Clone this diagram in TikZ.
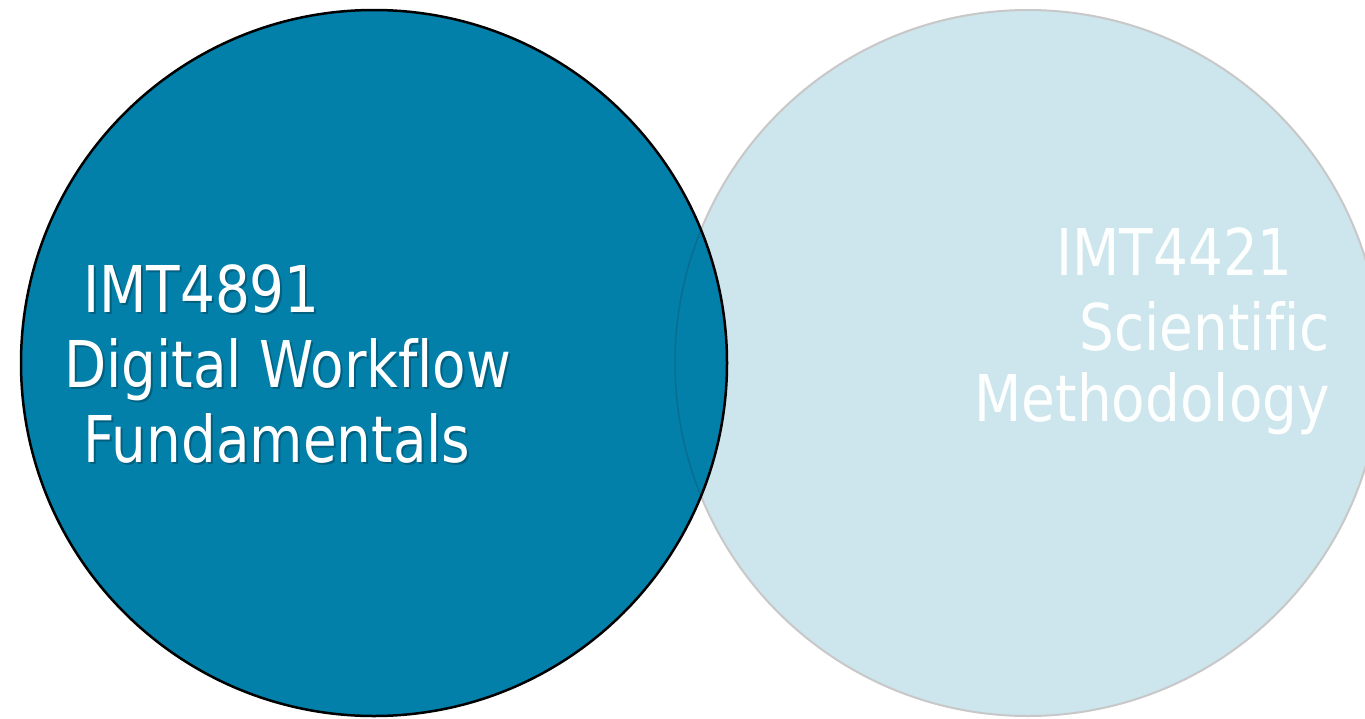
\documentclass[tikz,border=0pt]{standalone}
\usepackage{fontspec}
\setmainfont{DejaVu Sans}[FakeStretch=0.85, Ligatures=NoCommon]
\definecolor{darkteal}{RGB}{2,128,170}
\definecolor{lightteal}{RGB}{205,229,236}
\definecolor{ringgrey}{RGB}{200,200,200}
\definecolor{seam}{RGB}{10,105,138}
\tikzset{
  bigtext/.style={inner sep=0pt, font=\fontsize{64.5}{75}\selectfont},
  lefttext/.style={bigtext, text=white},
  shadowtext/.style={bigtext, text=black, opacity=0.25},
  righttext/.style={bigtext, text=white!96!lightteal},
  circ/.style={circle, minimum size=706pt, inner sep=0pt, outer sep=0pt}
}
\begin{document}
\begin{tikzpicture}[x=1pt,y=-1pt]
\useasboundingbox (0,0) rectangle (1365,718);
\fill[white] (0,0) rectangle (1365,718);
\begin{scope}
\clip (0,0) rectangle (1365,718);
% right circle
\node[circ, fill=lightteal, draw=ringgrey, line width=2pt] (R) at (1028,363) {};
% left circle
\node[circ, fill=darkteal] (L) at (374,363) {};
% faint seam of right circle seen through the left one
\begin{scope}
\clip (374,363) circle (352);
\draw[seam, line width=1.5pt, opacity=0.8] (1028,363) circle (353);
\end{scope}
\draw[black, line width=2.5pt] (L.center) circle (353);
\end{scope}
% left text (shadow + text)
\node[shadowtext, anchor=base west] at (85,314) {IMT4891};
\node[shadowtext, anchor=base west] at (66,389) {Digital Workflow};
\node[shadowtext, anchor=base west] at (85,464) {Fundamentals};
\node[lefttext, anchor=base west] (l1) at (83,312) {IMT4891};
\node[lefttext, anchor=base west] (l2) at (64,387) {Digital Workflow};
\node[lefttext, anchor=base west] (l3) at (83,462) {Fundamentals};
% right text
\node[righttext, anchor=base east] (r1) at (1293,275) {IMT4421};
\node[righttext, anchor=base east] (r2) at (1330,350) {Scientific};
\node[righttext, anchor=base east] (r3) at (1330,421) {Methodology};
\end{tikzpicture}
\end{document}
